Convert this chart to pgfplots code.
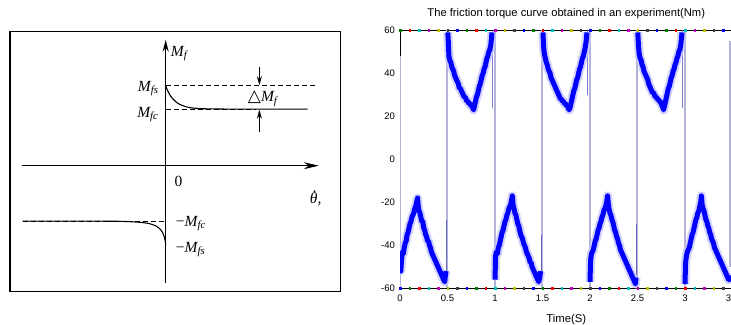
\documentclass[border=0pt]{standalone}
\usepackage{fontspec}
\setmainfont{Liberation Sans}
\newfontfamily\tnr{Liberation Serif}
\newfontfamily\dv{DejaVu Sans}
\usepackage{pgfplots}
\usepackage{pgfplotstable}
\pgfplotsset{compat=1.18}
\usetikzlibrary{arrows.meta}

\definecolor{mb}{rgb}{0,0,1}
\definecolor{mg}{rgb}{0,0.5,0}
\definecolor{mr}{rgb}{1,0,0}
\definecolor{mc}{rgb}{0,0.75,0.75}
\definecolor{mm}{rgb}{0.75,0,0.75}
\definecolor{my}{rgb}{0.75,0.75,0}
\definecolor{mk}{rgb}{0.25,0.25,0.25}
\definecolor{pale}{rgb}{0.70,0.70,0.86}

\newcommand{\Ms}[1]{{\tnr\itshape M}\textsubscript{\tnr\itshape #1}}
\tikzset{lab/.style={font=\fontsize{15.5}{17}\selectfont, inner sep=0pt}}

% ---------- friction torque data (Nm) ----------
\pgfplotstableread{
t v
0.000 -46
0.008 -52
0.016 -47
0.025 -43
0.035 -44
0.045 -41
0.055 -39
0.065 -38
0.075 -35
0.085 -34
0.095 -32
0.105 -30
0.115 -29
0.125 -27
0.135 -26
0.145 -25
0.155 -23
0.165 -22
0.175 -20
0.185 -18
0.192 -22
0.200 -24
0.210 -25
0.220 -27
0.230 -29
0.240 -29
0.250 -32
0.260 -33
0.270 -35
0.280 -36
0.290 -38
0.300 -38
0.310 -40
0.320 -41
0.330 -43
0.340 -44
0.350 -45
0.360 -46
0.370 -47
0.380 -48
0.390 -49
0.400 -50
0.410 -51
0.420 -52
0.430 -53
0.440 -54
0.450 -55
0.460 -56
0.470 -57
0.478 -54
0.485 -52
}\negA
\pgfplotstableread{
t v
0.503 59
0.508 55
0.515 48
0.525 46
0.535 45
0.545 43
0.555 42
0.565 41
0.575 39
0.585 38
0.595 37
0.605 36
0.615 35
0.625 33
0.635 33
0.645 32
0.655 31
0.665 30
0.675 29
0.685 29
0.695 28
0.705 27
0.715 27
0.725 26
0.735 26
0.745 25
0.755 25
0.765 24
0.775 23
0.785 25
0.795 27
0.805 29
0.815 30
0.825 32
0.835 34
0.845 35
0.855 37
0.865 39
0.875 40
0.885 42
0.895 43
0.905 45
0.915 47
0.925 48
0.935 50
0.945 51
0.955 53
0.962 56
0.968 59
}\posA
\pgfplotstableread{
t v
1.000 -56
1.006 -45
1.015 -43
1.025 -44
1.035 -41
1.045 -40
1.055 -38
1.065 -36
1.075 -34
1.085 -33
1.095 -31
1.105 -29
1.115 -28
1.125 -26
1.135 -25
1.145 -23
1.155 -22
1.165 -21
1.175 -19
1.182 -17
1.190 -21
1.200 -23
1.210 -25
1.220 -26
1.230 -28
1.240 -30
1.250 -31
1.260 -33
1.270 -35
1.280 -36
1.290 -37
1.300 -39
1.310 -40
1.320 -41
1.330 -43
1.340 -44
1.350 -45
1.360 -46
1.370 -48
1.380 -48
1.390 -50
1.400 -51
1.410 -52
1.420 -53
1.430 -54
1.440 -55
1.450 -56
1.460 -57
1.470 -55
1.480 -52
}\negB
\pgfplotstableread{
t v
1.505 59
1.512 52
1.520 49
1.530 47
1.540 45
1.550 44
1.560 42
1.570 41
1.580 40
1.590 38
1.600 37
1.610 36
1.620 35
1.630 34
1.640 33
1.650 32
1.660 31
1.670 30
1.680 29
1.690 28
1.700 28
1.710 27
1.720 27
1.730 26
1.740 26
1.750 25
1.760 25
1.770 24
1.780 23
1.790 24
1.800 26
1.810 28
1.820 30
1.830 32
1.840 33
1.850 35
1.860 37
1.870 38
1.880 40
1.890 42
1.900 43
1.910 45
1.920 47
1.930 48
1.940 50
1.950 52
1.960 55
1.968 59
}\posB
\pgfplotstableread{
t v
2.000 -57
2.006 -47
2.015 -44
2.025 -43
2.035 -42
2.045 -40
2.055 -38
2.065 -37
2.075 -35
2.085 -33
2.095 -32
2.105 -30
2.115 -29
2.125 -27
2.135 -26
2.145 -24
2.155 -23
2.165 -22
2.175 -20
2.185 -17
2.193 -21
2.200 -23
2.210 -25
2.220 -26
2.230 -28
2.240 -29
2.250 -31
2.260 -33
2.270 -34
2.280 -36
2.290 -37
2.300 -39
2.310 -40
2.320 -42
2.330 -43
2.340 -44
2.350 -45
2.360 -46
2.370 -47
2.380 -48
2.390 -49
2.400 -50
2.410 -51
2.420 -52
2.430 -53
2.440 -54
2.450 -55
2.460 -56
2.470 -57
2.478 -58
2.485 -55
}\negC
\pgfplotstableread{
t v
2.503 59
2.510 53
2.518 49
2.528 47
2.538 46
2.548 44
2.558 43
2.568 41
2.578 40
2.588 39
2.598 38
2.608 37
2.618 35
2.628 34
2.638 33
2.648 32
2.658 31
2.668 31
2.678 30
2.688 29
2.698 29
2.708 28
2.718 28
2.728 27
2.738 27
2.748 26
2.758 25
2.768 24
2.775 23
2.785 25
2.795 27
2.805 29
2.815 31
2.825 33
2.835 34
2.845 36
2.855 38
2.865 39
2.875 41
2.885 42
2.895 44
2.905 45
2.915 47
2.925 48
2.935 50
2.945 51
2.955 53
2.962 56
2.968 59
}\posC
\pgfplotstableread{
t v
3.000 -58
3.006 -48
3.015 -45
3.025 -43
3.035 -42
3.045 -41
3.055 -39
3.065 -37
3.075 -35
3.085 -34
3.095 -32
3.105 -30
3.115 -28
3.125 -27
3.135 -25
3.145 -24
3.155 -22
3.165 -20
3.172 -17
3.180 -21
3.190 -23
3.200 -24
3.210 -26
3.220 -28
3.230 -29
3.240 -31
3.250 -32
3.260 -34
3.270 -35
3.280 -37
3.290 -38
3.300 -39
3.310 -41
3.320 -42
3.330 -43
3.340 -44
3.350 -45
3.360 -46
3.370 -47
3.380 -48
3.390 -49
3.400 -50
3.410 -51
3.420 -52
3.430 -53
3.440 -54
3.450 -55
3.460 -56
3.470 -56
3.480 -54
}\negD

\begin{document}
\begin{tikzpicture}
\path[use as bounding box] (0,0) rectangle (731pt,324pt);

% ================= left panel: friction model =================
\begin{axis}[
  at={(10pt,32.7pt)}, anchor=south west,
  scale only axis, width=330.5pt, height=259.6pt,
  xmin=-155.7, xmax=174.8, ymin=-125.6, ymax=134,
  xtick=\empty, ytick=\empty,
  axis line style={line width=1.2pt, black},
  clip=false,
]
% dashed reference levels
\addplot[line width=0.8pt, dash pattern=on 5pt off 3pt] coordinates {(0,80) (149,80)};
\addplot[line width=0.8pt, dash pattern=on 5pt off 3pt] coordinates {(0,56.5) (90,56.5)};
\addplot[line width=0.8pt, dash pattern=on 5pt off 3pt] coordinates {(-143,-55.5) (0,-55.5)};
% friction curves
\addplot[line width=1.1pt, smooth] coordinates {(0,80) (1.5,76) (3,73) (5,69.5) (7,67) (9,65) (12,62.5) (16,60.5) (20,59) (25,58) (32,57.2) (45,56.8) (70,56.6) (142,56.6)};
\addplot[line width=1.1pt, smooth] coordinates {(-143,-55.5) (-60,-55.5) (-40,-55.8) (-30,-56.3) (-22,-57) (-16,-58) (-12,-59.3) (-8,-61.3) (-5,-64) (-3,-67) (-1.5,-71) (-0.5,-75) (0,-79)};
% coordinate axes
\addplot[line width=0.8pt, -{Stealth[length=15pt,width=7pt,inset=5pt]}] coordinates {(-144,0) (153,0)};
\addplot[line width=1.5pt, -{Stealth[length=12pt,width=6pt,inset=4pt]}] coordinates {(0,-117.3) (0,126)};
% Delta M_f arrows
\addplot[line width=0.8pt, -{Stealth[length=9pt,width=5pt]}] coordinates {(93.7,99) (93.7,80.5)};
\addplot[line width=0.8pt, -{Stealth[length=9pt,width=5pt]}] coordinates {(93.7,34) (93.7,56)};
% labels
\node[lab, anchor=west] at (5,112) {\Ms{f}};
\node[lab, anchor=east] at (-7,77) {\Ms{fs}};
\node[lab, anchor=east] at (-7,51) {\Ms{fc}};
\node[lab, anchor=center] at (12.7,-16) {\tnr 0};
\node[lab, anchor=center] at (150,-33) {\tnr\itshape\makebox[0pt][l]{\hspace{0.2em}\raisebox{0.7em}{.}}θ,};
\node[lab, anchor=west] at (10,-58) {{\tnr −}\Ms{fc}};
\node[lab, anchor=west] at (10,-84) {{\tnr −}\Ms{fs}};
\node[lab, anchor=center] at (97,67) {{\dv\fontsize{17}{17}\selectfont △}\Ms{f}};
\end{axis}

% ================= right panel: measured friction torque =================
\begin{axis}[
  at={(400pt,35.7pt)}, anchor=south west,
  scale only axis, width=332.5pt, height=258pt,
  xmin=0, xmax=3.5, ymin=-60, ymax=60,
  xtick={0,0.5,1,1.5,2,2.5,3,3.5},
  xticklabels={0,0.5,1,1.5,2,2.5,3,3.5},
  ytick={-60,-40,-20,0,20,40,60},
  major tick length=0pt,
  /pgf/number format/assume math mode=true,
  tick label style={font=\fontsize{9.5}{10}\selectfont},
  xticklabel style={anchor=base, yshift=-13.2pt},
  yticklabel style={xshift=-1.5pt},
  axis line style={line width=1pt, black},
  title={The friction torque curve obtained in an experiment(Nm)},
  title style={font=\fontsize{11.2}{12}\selectfont, anchor=base, yshift=7.5pt},
  xlabel={Time(S)},
  xlabel style={font=\fontsize{11.3}{12}\selectfont, at={(axis description cs:0.5,0)}, anchor=base, yshift=-34pt},
  unbounded coords=jump,
  halo/.style={blue!22, line width=9pt, opacity=0.8, line join=round},
  core/.style={blue, line width=5pt, line join=round},
]
% pale jump lines
\addplot[pale, line width=1.8pt] coordinates {
 (0.004,48) (0.004,-60) (0.004,nan)
 (0.498,-60) (0.498,60) (0.498,nan)
 (0.998,60) (0.998,-60) (0.998,nan)
 (1.498,-60) (1.498,60) (1.498,nan)
 (1.998,60) (1.998,-60) (1.998,nan)
 (2.498,-60) (2.498,60) (2.498,nan)
 (2.998,60) (2.998,-60) (2.998,nan)
 (3.475,-50) (3.475,55)};
% short darker verticals at segment ends
\addplot[blue!45!gray, line width=1.1pt, opacity=0.7] coordinates {
 (0.49,-57) (0.49,-28) (0.49,nan)
 (0.975,60) (0.975,24) (0.975,nan)
 (1.49,-57) (1.49,-35) (1.49,nan)
 (1.972,60) (1.972,30) (1.972,nan)
 (2.49,-58) (2.49,-30) (2.49,nan)
 (2.972,60) (2.972,24)};
% halo
\addplot[halo] table {\negA};
\addplot[halo] table {\posA};
\addplot[halo] table {\negB};
\addplot[halo] table {\posB};
\addplot[halo] table {\negC};
\addplot[halo] table {\posC};
\addplot[halo] table {\negD};
% core
\addplot[core] table {\negA};
\addplot[core] table {\posA};
\addplot[core] table {\negB};
\addplot[core] table {\posB};
\addplot[core] table {\negC};
\addplot[core] table {\posC};
\addplot[core] table {\negD};
\end{axis}

% overlay: coloured markers on the frame (unclipped)
\begin{axis}[
  at={(400pt,35.7pt)}, anchor=south west,
  scale only axis, width=332.5pt, height=258pt,
  xmin=0, xmax=3.5, ymin=-60, ymax=60,
  hide axis, clip=false,
]
\addplot[scatter, only marks, mark=square*, mark size=0.8pt,
  scatter src=explicit symbolic,
  scatter/classes={
    b={mark=square*,draw=mb,fill=mb},
    g={mark=square*,draw=mg,fill=mg},
    r={mark=square*,draw=mr,fill=mr},
    c={mark=square*,draw=mc,fill=mc},
    m={mark=square*,draw=mm,fill=mm},
    y={mark=square*,draw=my,fill=my},
    k={mark=square*,draw=mk,fill=mk}}]
coordinates {
 (0.0,-60)[b] (0.1,-60)[g] (0.2,-60)[r] (0.3,-60)[c] (0.4,-60)[m] (0.5,-60)[y] (0.6,-60)[k]
 (0.7,-60)[b] (0.8,-60)[g] (0.9,-60)[r] (1.0,-60)[c] (1.1,-60)[m] (1.2,-60)[y] (1.3,-60)[k]
 (1.4,-60)[b] (1.5,-60)[g] (1.6,-60)[r] (1.7,-60)[c] (1.8,-60)[m] (1.9,-60)[y] (2.0,-60)[k]
 (2.1,-60)[b] (2.2,-60)[g] (2.3,-60)[r] (2.4,-60)[c] (2.5,-60)[m] (2.6,-60)[y] (2.7,-60)[k]
 (2.8,-60)[b] (2.9,-60)[g] (3.0,-60)[r] (3.1,-60)[c] (3.2,-60)[m] (3.3,-60)[y] (3.4,-60)[k]
 (0.0,60)[g] (0.1,60)[r] (0.2,60)[c] (0.3,60)[m] (0.4,60)[y] (0.5,60)[k] (0.6,60)[b]
 (0.7,60)[g] (0.8,60)[r] (0.9,60)[c] (1.0,60)[m] (1.1,60)[y] (1.2,60)[k] (1.3,60)[b]
 (1.4,60)[g] (1.5,60)[r] (1.6,60)[c] (1.7,60)[m] (1.8,60)[y] (1.9,60)[k] (2.0,60)[b]
 (2.1,60)[g] (2.2,60)[r] (2.3,60)[c] (2.4,60)[m] (2.5,60)[y] (2.6,60)[k] (2.7,60)[b]
 (2.8,60)[g] (2.9,60)[r] (3.0,60)[c] (3.1,60)[m] (3.2,60)[y] (3.3,60)[k] (3.4,60)[b]
};
\end{axis}
\end{tikzpicture}
\end{document}
